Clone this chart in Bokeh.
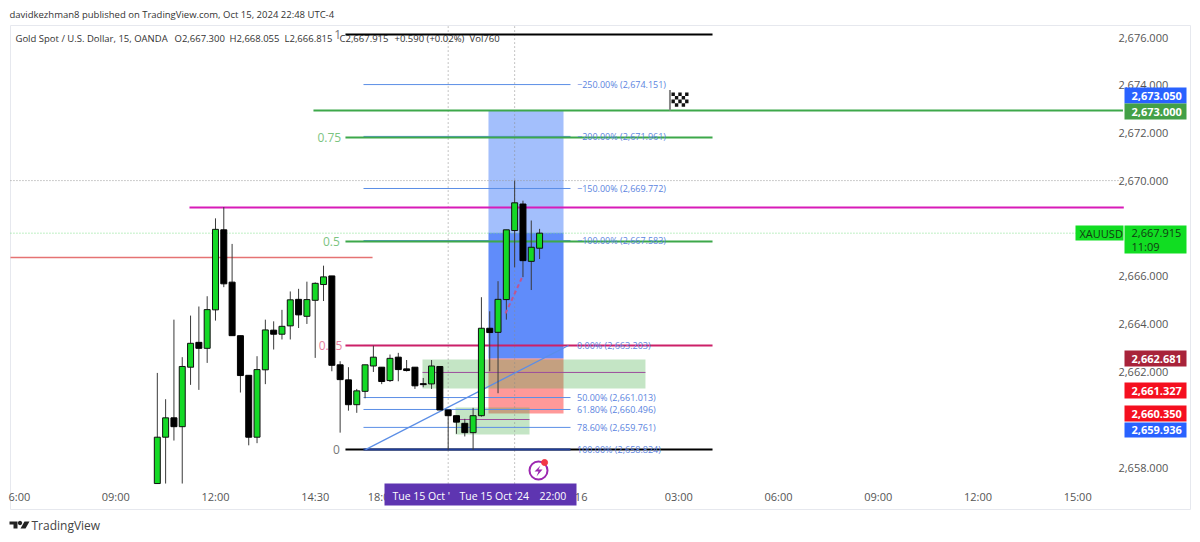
from bokeh.core.properties import value
from bokeh.embed import file_html
from bokeh.models import FixedTicker, LinearAxis, NumeralTickFormatter, Range1d
from bokeh.plotting import figure
from bokeh.resources import INLINE

# candles, one every 15 min, bar number 0 is the 12:00 bar
bars = list(range(-7, 40))
opens = [2657.33, 2659.27, 2660.08, 2659.71, 2662.20, 2663.24, 2662.99, 2664.60, 2667.95, 2665.76,
         2663.52, 2661.86, 2659.27, 2662.09, 2663.75, 2663.58, 2663.93, 2665.04, 2664.33, 2665.00,
         2665.66, 2666.02, 2662.30, 2661.67, 2660.63, 2661.19, 2662.25, 2662.20, 2661.64, 2662.62,
         2662.13, 2662.20, 2661.51, 2661.50, 2662.23, 2660.41, 2660.17, 2659.85, 2659.46, 2660.17,
         2663.83, 2663.66, 2665.03, 2667.92, 2669.03, 2666.63, 2667.18]
highs = [2661.96, 2660.86, 2664.19, 2662.62, 2664.36, 2664.74, 2665.17, 2668.43, 2668.90, 2667.36,
         2663.52, 2661.86, 2662.66, 2664.19, 2664.12, 2664.60, 2665.37, 2665.48, 2665.78, 2665.75,
         2666.45, 2666.02, 2662.45, 2662.20, 2661.29, 2662.30, 2663.10, 2662.20, 2662.73, 2662.80,
         2662.50, 2662.20, 2661.75, 2662.50, 2662.23, 2660.41, 2660.17, 2660.04, 2660.50, 2665.13,
         2664.54, 2665.80, 2667.95, 2670.01, 2669.17, 2668.34, 2667.99]
lows = [2657.33, 2657.33, 2659.13, 2657.33, 2661.46, 2661.25, 2662.38, 2664.15, 2665.55, 2663.52,
        2661.14, 2658.93, 2659.02, 2661.49, 2662.94, 2663.36, 2663.36, 2663.84, 2664.01, 2662.59,
        2664.97, 2662.03, 2659.46, 2660.38, 2660.29, 2660.90, 2662.00, 2661.49, 2661.58, 2661.61,
        2662.02, 2661.29, 2661.36, 2661.29, 2660.41, 2658.74, 2659.41, 2659.30, 2658.74, 2660.13,
        2662.03, 2661.11, 2664.19, 2666.38, 2665.97, 2665.43, 2666.73]
closes = [2659.27, 2660.08, 2659.71, 2662.23, 2663.20, 2662.99, 2664.61, 2667.97, 2665.69, 2663.52,
          2661.85, 2659.27, 2662.10, 2663.76, 2663.58, 2663.91, 2665.02, 2664.39, 2665.03, 2665.71,
          2665.98, 2662.28, 2661.68, 2660.63, 2661.21, 2662.30, 2662.62, 2661.60, 2662.57, 2662.10,
          2662.06, 2661.42, 2661.47, 2662.25, 2660.41, 2660.17, 2659.90, 2659.46, 2660.17, 2663.83,
          2663.65, 2665.04, 2667.95, 2669.08, 2666.66, 2667.22, 2667.81]

price_ticks = [2676, 2674, 2672, 2670, 2666, 2664, 2662, 2658]
time_ticks = [-23.6, -12, 0, 12, 20, 44, 55.75, 67.75, 79.75, 91.75, 103.75]
time_labels = ["6:00", "09:00", "12:00", "14:30", "18:00", "16", "03:00", "06:00", "09:00", "12:00", "15:00"]

# fib tool
fib_labels = ["\u2212250.00% (2,674.151)", "\u2212200.00% (2,671.961)", "\u2212150.00% (2,669.772)",
              "\u2212100.00% (2,667.583)", "0.00% (2,663.203)", "50.00% (2,661.013)",
              "61.80% (2,660.496)", "78.60% (2,659.761)", "100.00% (2,658.824)"]
fib_prices = [2674.03, 2671.86, 2669.68, 2667.50, 2663.11, 2660.93, 2660.43, 2659.68, 2658.75]

# ratio levels on the left of the fib tool
ratio_labels = ["1", "0.75", "0.5", "0.25", "0"]
ratio_prices = [2676.13, 2671.81, 2667.46, 2663.11, 2658.75]
ratio_bars = [14.7, 13.7, 13.95, 13.84, 14.56]
ratio_text_colors = ["#777777", "#7cc47f", "#7cc47f", "#e87fa0", "#777777"]
ratio_line_colors = ["#000000", "#3da84a", "#3da84a", "#cc2068", "#000000"]

flag_rows = [2673.70, 2673.55, 2673.40, 2673.25]
flag_cols = [54.87, 55.28, 55.69, 56.10, 56.51]

# price tags on the axis: text, top, bottom, colour
tag_texts = ["2,673.050", "2,673.000", "2,662.681", "2,661.327", "2,660.350", "2,659.936"]
tag_tops = [87, 103, 350, 382, 405, 422]
tag_bottoms = [103, 119, 366, 398, 421, 437]
tag_colors = ["#2962ff", "#43a047", "#a8233a", "#f50f1f", "#f50f1f", "#2962ff"]

BORDER = "#e6e8ee"
FONT = value("Open Sans")

p = figure(width=1200, height=542, output_backend="svg", toolbar_location=None,
           x_range=Range1d(-25.87, 118.53), y_range=Range1d(2654.862, 2677.549),
           x_axis_type=None, y_axis_type=None,
           min_border_left=0, min_border_right=0, min_border_top=0, min_border_bottom=0)
p.outline_line_color = None
p.xgrid.visible = False
p.ygrid.visible = False
# page pixels, for the tags, captions and logo around the chart
p.extra_x_ranges["px"] = Range1d(0, 1200)
p.extra_y_ranges["px"] = Range1d(542, 0)
px = dict(x_range_name="px", y_range_name="px")

y_axis = LinearAxis(ticker=FixedTicker(ticks=price_ticks), formatter=NumeralTickFormatter(format="0,0.000"),
                    fixed_location=108.66)
x_axis = LinearAxis(ticker=FixedTicker(ticks=time_ticks), major_label_overrides=dict(zip(time_ticks, time_labels)),
                    fixed_location=2657.33)
for ax in (y_axis, x_axis):
    ax.axis_line_color = None
    ax.major_tick_line_color = None
    ax.minor_tick_line_color = None
    ax.major_tick_out = 0
    ax.major_label_text_font = "Open Sans"
    ax.major_label_text_font_size = "11px"
    ax.major_label_text_color = "#555555"
y_axis.major_label_standoff = 0
x_axis.major_label_standoff = 5
p.add_layout(y_axis, "right")
p.add_layout(x_axis, "below")

# chart border
p.line([10, 1190, 1190, 10, 10], [25, 25, 509, 509, 25], color=BORDER, line_width=1, **px)

# position boxes
p.quad(left=[32.85], right=[41.88], top=[2672.94], bottom=[2667.84], color="#a3bffc", line_color=None)
p.quad(left=[32.85], right=[41.88], top=[2667.84], bottom=[2662.56], color="#608cfa", line_color=None)
p.quad(left=[32.85], right=[41.88], top=[2662.56], bottom=[2660.26], color="#ff0000", alpha=0.4, line_color=None)
p.quad(left=[24.91, 28.88], right=[51.74, 37.79], top=[2662.52, 2660.51], bottom=[2661.31, 2659.38],
       color="#4caf50", alpha=0.33, line_color=None)
p.line([24.91, 51.74], [2661.98, 2661.98], color="#9c4d9c", line_width=1)
p.line([28.88, 37.79], [2660.01, 2660.01], color="#9c4d9c", line_width=1)

# dotted crosshair and price lines
for b in (28, 36):
    p.line([b, b], [2657.33, 2676.5], color="#8a8a8a", line_width=1, line_dash="1 3")
p.line([-24.67, 109], [2670.01, 2670.01], color="#9a9a9a", line_width=1, line_dash="1 2")
p.line([-24.67, 109], [closes[-1], closes[-1]], color="#7fe08a", line_width=1, line_dash="1 2")

# drawn levels
p.line([-3.13, 109.3], [2668.88, 2668.88], color="#d81bb8", line_width=2)
p.line([-24.67, 18.9], [2666.79, 2666.79], color="#e57373", line_width=1.5)
p.line([11.79, 109.2], [2672.94, 2672.94], color="#3da84a", line_width=2)

# fib lines go under the ratio lines, only the last one stays on top
for price in fib_prices[:-1]:
    p.line([17.81, 42.72], [price, price], color="#5b8ee6", line_width=1)
for price, col in zip(ratio_prices, ratio_line_colors):
    p.line([15.64, 59.81], [price, price], color=col, line_width=2)
p.line([17.81, 42.72], [fib_prices[-1], fib_prices[-1]], color="#1f3d99", line_width=2)
p.line([18.05, 42.48], [2658.75, 2663.11], color="#5b8ee6", line_width=1.2)

p.text(x=ratio_bars, y=ratio_prices, text=ratio_labels, text_color=ratio_text_colors,
       text_font=FONT, text_font_size="12px", text_align="center", text_baseline="middle")

# candles
p.segment(bars, highs, bars, lows, color="#3a3a3a", line_width=1)
up = [i for i in range(len(bars)) if closes[i] >= opens[i]]
down = [i for i in range(len(bars)) if closes[i] < opens[i]]
p.vbar(x=[bars[i] for i in up], top=[closes[i] for i in up], bottom=[opens[i] for i in up],
       width=0.72, fill_color="#14d926", line_color="#111111", line_width=1)
p.vbar(x=[bars[i] for i in down], top=[opens[i] for i in down], bottom=[closes[i] for i in down],
       width=0.72, fill_color="#000000", line_color="#000000", line_width=1)
p.line([34.9, 37.0], [2664.45, 2666.04], color="#c0558f", line_width=2, line_dash="4 3")

p.text(x=[43.5] * len(fib_labels), y=fib_prices, text=fib_labels, text_color="#5b84e0",
       text_font=FONT, text_font_size="9px", text_align="left", text_baseline="middle")

# finish flag
p.line([54.69, 54.69], [2672.94, 2673.80], color="#888888", line_width=2)
for r, price in enumerate(flag_rows):
    for c, bar in enumerate(flag_cols):
        if (r + c) % 2 == 0:
            p.quad(left=[bar], right=[bar + 0.41], top=[price], bottom=[price - 0.15], color="#111111", line_color=None)

# alert icon
p.scatter([38.87], [2657.875], size=18, marker="circle", fill_color=None, line_color="#9c27b0", line_width=2)
p.patch([39.11, 38.39, 38.87, 38.63, 39.35, 38.87], [2658.08, 2657.83, 2657.83, 2657.62, 2657.92, 2657.92],
        color="#9c27b0", line_color=None)
p.scatter([39.6], [2658.21], size=6, marker="circle", color="#f23645")

# captions
cap = dict(text_font=FONT, text_align="left", text_baseline="middle", level="overlay", **px)
p.text(x=[9], y=[14], text=["davidkezhman8 published on TradingView.com, Oct 15, 2024 22:48 UTC-4"],
       text_color="#333333", text_font_size="9.5px", **cap)
p.text(x=[15, 174, 229, 284, 339, 394, 469], y=[38] * 7,
       text=["Gold Spot / U.S. Dollar, 15, OANDA", "O2,667.300", "H2,668.055", "L2,666.815", "C2,667.915",
             "+0.590 (+0.02%)", "Vol760"],
       text_color="#333333", text_font_size="9.5px", **cap)

# time cursor, it covers the axis labels under it
p.quad(left=[384], right=[576], top=[483], bottom=[505], color="#5e35b1", line_color=None, level="overlay", **px)
p.text(x=[392, 459, 539], y=[495] * 3, text=["Tue 15 Oct '", "Tue 15 Oct '24", "22:00"], text_color="#ffffff",
       text_font_size="10.5px", **cap)

# price tags
p.quad(left=[1124] * len(tag_texts), right=[1186] * len(tag_texts), top=tag_tops, bottom=tag_bottoms,
       color=tag_colors, line_color=None, level="overlay", **px)
p.text(x=[1131] * len(tag_texts), y=[(a + b) / 2 for a, b in zip(tag_tops, tag_bottoms)], text=tag_texts,
       text_color="#ffffff", text_font_size="11px", text_font_style="bold", **cap)
p.quad(left=[1075, 1124], right=[1123, 1186], top=[225, 225], bottom=[240, 253], color="#11dd22", line_color=None,
       level="overlay", **px)
p.text(x=[1079, 1131, 1131], y=[232.5, 232.5, 246], text=["XAUUSD", "2,667.915", "11:09"], text_color="#123a12",
       text_font_size="11px", **cap)

# logo strip
p.patches([[9, 17, 17, 13, 13, 9], [24, 29, 25, 20]], [[521, 521, 528, 528, 524, 524], [521, 521, 528, 528]],
          color="#222222", line_color=None, **px)
p.scatter([19.5], [522.5], size=3.5, marker="circle", color="#222222", **px)
p.text(x=[31], y=[525], text=["TradingView"], text_color="#444444", text_font_size="12px", **cap)

open("out.html", "w").write(file_html(p, INLINE))
